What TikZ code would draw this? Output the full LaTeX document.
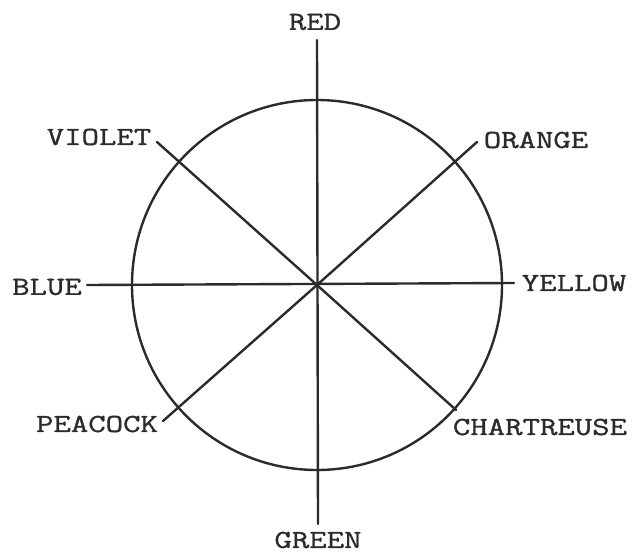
\documentclass[tikz,border=0pt]{standalone}
\usepackage{fontspec}
\newfontfamily\wheelfont{Latin Modern Mono}[FakeStretch=1.3, FakeBold=1.2]
\usepackage{tikz}
\usetikzlibrary{positioning, calc}
\definecolor{ink}{HTML}{2B2B2B}

\begin{document}
\begin{tikzpicture}[
    x=1pt, y=-1pt,
    hue/.style={font=\wheelfont\fontsize{26}{26}\selectfont, text=ink, inner sep=0pt},
    spoke/.style={line width=2.4pt, draw=ink, line cap=round},
]
\useasboundingbox (0,0) rectangle (634,554);

% centre and wheel
\coordinate (c) at (317,285);
\node[circle, draw=ink, line width=2.4pt, minimum size=370pt, inner sep=0pt] (wheel) at (c) {};

% colour names
\node[hue] (red)   at (315,22)  {RED};
\node[hue] (green) at (318,540) {GREEN};
\node[hue] (blue)  at (47,287)  {BLUE};
\node[hue] (yellow) at (574,283) {YELLOW};
\node[hue] (violet) at (99,137)  {VIOLET};
\node[hue] (orange) at (536,140) {ORANGE};
\node[hue] (peacock) at (97,424) {PEACOCK};
\node[hue] (chartreuse) at (540,427) {CHARTREUSE};

% spoke ends
\coordinate (redend) at (317,40);
\coordinate (greenend) at (318,524);
\coordinate (blueend) at (87,285);
\coordinate (yellowend) at (514,283);
\coordinate (violetend) at (157,142);
\coordinate (orangeend) at (477,142);
\coordinate (peacockend) at (163,421);
\coordinate (chartreuseend) at (456,410);

% spokes
\draw[spoke] (redend) -- (greenend);
\draw[spoke] (blueend) -- (yellowend);
\draw[spoke] (c) -- (violetend);
\draw[spoke] (c) -- (orangeend);
\draw[spoke] (c) -- (peacockend);
\draw[spoke] (c) -- (chartreuseend);

\end{tikzpicture}
\end{document}
